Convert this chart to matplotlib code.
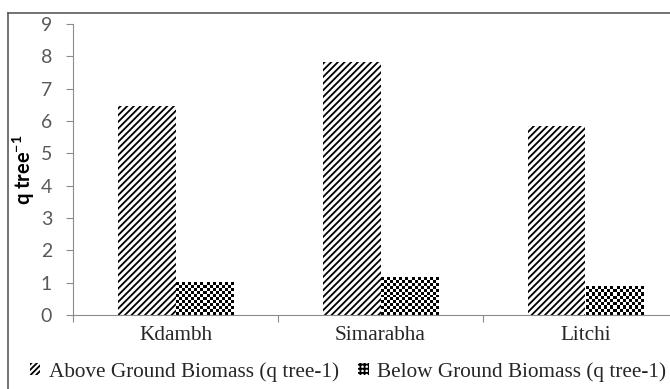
import numpy as np
import matplotlib
matplotlib.use('Agg')
from matplotlib import pyplot as plt
from matplotlib.patches import Patch
from matplotlib.lines import Line2D

# biomass per tree (q tree-1)
species = ['Kdambh', 'Simarabha', 'Litchi']
above_ground = [6.45, 7.82, 5.85]
below_ground = [1.0, 1.17, 0.87]
yticks = list(range(0, 10))

W, H, DPI = 670, 389, 100
plt.rcParams['hatch.linewidth'] = 1.3
plt.rcParams['mathtext.fontset'] = 'custom'
plt.rcParams['mathtext.rm'] = 'Lato'
plt.rcParams['mathtext.bf'] = 'Lato:bold'
axcol = '#8c8c8c'
txtcol = '#595959'
serif = 'Liberation Serif'

fig = plt.figure(figsize=(W / DPI, H / DPI), dpi=DPI)
ax = fig.add_axes([73 / W, (H - 315) / H, (688 - 73) / W, (315 - 24) / H])

x = np.arange(len(species))
bw = 0.28
b1 = ax.bar(x - bw / 2, above_ground, bw, facecolor='white', edgecolor='black',
            linewidth=0, hatch='/////')
b2 = ax.bar(x + bw / 2, below_ground, bw, facecolor='white', edgecolor='black',
            linewidth=0)

ax.set_xlim(-0.5, 2.5)
ax.set_ylim(0, 9)

# checkerboard fill for below ground bars
cell = 3.0
for p in b2.patches:
    x0, y0 = p.get_x(), p.get_y()
    x1, y1 = x0 + p.get_width(), y0 + p.get_height()
    (px0, py0), (px1, py1) = ax.transData.transform([(x0, y0), (x1, y1)])
    nc = max(1, int(round((px1 - px0) / cell)))
    nr = max(1, int(round((py1 - py0) / cell)))
    ii, jj = np.indices((nr, nc))
    chk = ((ii + jj) % 2).astype(float)
    ax.imshow(chk, cmap='gray', extent=(x0, x1, y0, y1), origin='lower',
              interpolation='nearest', aspect='auto', zorder=p.get_zorder() + 0.1)
ax.set_xlim(-0.5, 2.5)
ax.set_ylim(0, 9)

for s in ['top', 'right']:
    ax.spines[s].set_visible(False)
for s in ['left', 'bottom']:
    ax.spines[s].set_color(axcol)
    ax.spines[s].set_linewidth(0.8)

ax.set_yticks(yticks)
ax.set_yticklabels([str(v) for v in yticks], fontfamily='Lato', fontsize=14, color=txtcol)
ax.tick_params(axis='y', direction='out', length=5, color=axcol, width=0.8, pad=10)

ax.set_xticks([-0.5, 0.5, 1.5])
ax.set_xticklabels([])
ax.set_xticks(x, minor=True)
ax.set_xticklabels(species, minor=True, fontfamily=serif, fontsize=15.3, color='#262626')
ax.tick_params(axis='x', which='major', direction='out', length=5, color=axcol, width=0.8)
ax.tick_params(axis='x', which='minor', length=0, pad=8)

ax.set_ylabel(r'q tree$^{\mathbf{-1}}$', fontfamily='Lato', fontweight='bold', fontsize=14.5,
              color='black', labelpad=3)

h1 = Patch(facecolor='white', edgecolor='black', linewidth=0, hatch='//////')
h2 = Patch(facecolor='white', edgecolor='black', linewidth=0, hatch='++++')
fig.legend([h1, h2], ['Above Ground Biomass (q tree-1)', 'Below Ground Biomass (q tree-1)'],
           loc='center', bbox_to_anchor=(348 / W, 1 - 372 / H), ncol=2, frameon=False,
           prop={'family': serif, 'size': 15.3}, handlelength=0.5,
           handleheight=0.5, handletextpad=0.4, columnspacing=0.9, labelcolor='#262626')

# frame lines of the cropped picture
fig.add_artist(Line2D([8 / W, 1], [1 - 12.5 / H] * 2, transform=fig.transFigure,
                      color='#5a5a5a', linewidth=1.2))
fig.add_artist(Line2D([8 / W] * 2, [0, 1 - 12.5 / H], transform=fig.transFigure,
                      color='#5a5a5a', linewidth=1.2))

fig.savefig('out.png', dpi=DPI)
